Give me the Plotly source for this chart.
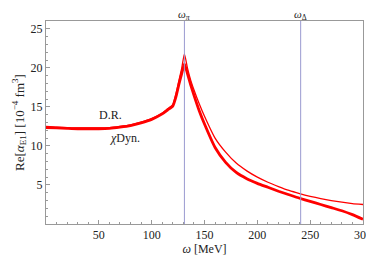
import plotly.graph_objects as go

omega = [0, 10, 20, 30, 40, 50, 60, 70, 80, 90, 100, 110, 115, 120, 123, 126, 128.5, 131,
         134, 137, 140, 145, 150, 160, 170, 180, 190, 200, 210, 220, 230, 240, 250,
         260, 270, 280, 290, 300]
chidyn = [12.35, 12.3, 12.25, 12.2, 12.2, 12.2, 12.25, 12.4, 12.6, 12.95, 13.4, 14.1,
          14.6, 15.1, 16.3, 18.0, 19.3, 20.5, 19.2, 17.8, 16.5, 14.5, 12.8, 9.8, 7.9, 6.6,
          5.8, 5.2, 4.7, 4.2, 3.75, 3.3, 2.9, 2.5, 2.1, 1.7, 1.2, 0.6]
dr = [12.5, 12.4, 12.35, 12.3, 12.3, 12.3, 12.35, 12.5, 12.7, 13.05, 13.5, 14.2,
      14.75, 15.3, 16.7, 18.5, 20.0, 21.8, 19.9, 18.4, 17.2, 15.4, 13.8, 11.0, 9.2, 7.8,
      6.8, 6.0, 5.35, 4.8, 4.3, 3.9, 3.55, 3.25, 3.0, 2.8, 2.62, 2.5]
omega_pi = 131
omega_delta = 241
xticks = [50, 100, 150, 200, 250, 300]
yticks = [5, 10, 15, 20, 25]

SERIF = "Liberation Serif, Times New Roman, serif"
TXT = "#222"

fig = go.Figure()
fig.add_trace(go.Scatter(x=omega, y=dr, mode="lines",
                         line=dict(color="#ff0000", width=1.3, shape="spline", smoothing=0.5)))
fig.add_trace(go.Scatter(x=omega, y=chidyn, mode="lines",
                         line=dict(color="#ff0000", width=2.8, shape="spline", smoothing=0.5)))

for xv in (omega_pi, omega_delta):
    fig.add_shape(type="line", x0=xv, x1=xv, y0=0, y1=1, yref="paper", xref="x",
                  line=dict(color="#9a9ad0", width=1))

fig.add_annotation(x=omega_pi, y=1, yref="paper", yanchor="bottom", showarrow=False, yshift=-3,
                   text="<i>ω</i><sub><i>π</i></sub>", font=dict(family=SERIF, size=11, color=TXT))
fig.add_annotation(x=omega_delta, y=1, yref="paper", yanchor="bottom", showarrow=False, yshift=-3,
                   text="<i>ω</i><sub>Δ</sub>", font=dict(family=SERIF, size=11, color=TXT))
fig.add_annotation(x=61, y=14.0, showarrow=False, text="D.R.",
                   font=dict(family=SERIF, size=12, color=TXT))
fig.add_annotation(x=75, y=11.0, showarrow=False, text="<i>χ</i>Dyn.",
                   font=dict(family=SERIF, size=12, color=TXT))

axis_common = dict(showline=True, mirror=True, linecolor="#999", linewidth=1,
                   ticks="inside", ticklen=4, tickcolor="#999", showgrid=False, zeroline=False,
                   tickfont=dict(family=SERIF, size=12, color=TXT))
fig.update_xaxes(range=[0, 300], tickvals=xticks, **axis_common,
                 minor=dict(dtick=10, ticks="inside", ticklen=2, tickcolor="#999"),
                 title=dict(text="<i>ω</i> [MeV]", standoff=2,
                            font=dict(family=SERIF, size=12, color=TXT)))
fig.update_yaxes(range=[0, 26], tickvals=yticks, **axis_common,
                 minor=dict(dtick=1, ticks="inside", ticklen=2, tickcolor="#999"),
                 title=dict(text="Re[<i>α</i><sub>E1</sub>] [10<sup>−4</sup> fm<sup>3</sup>]", standoff=3,
                            font=dict(family=SERIF, size=13, color=TXT)))
fig.update_layout(width=374, height=255, margin=dict(l=38, r=10, t=13, b=30),
                  font=dict(family=SERIF),
                  plot_bgcolor="white", paper_bgcolor="white", showlegend=False)
fig.write_html("out.html")
